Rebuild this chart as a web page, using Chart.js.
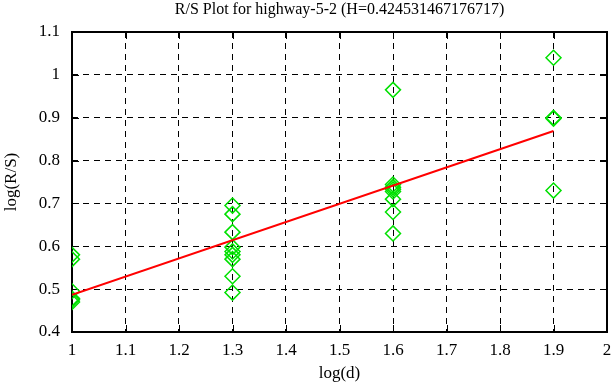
<!DOCTYPE html>
<html>
<head>
<meta charset="utf-8">
<script src="https://cdn.jsdelivr.net/npm/chart.js@4/dist/chart.umd.min.js"></script>
<style>
html, body { margin: 0; padding: 0; background: #fff; }
#wrap { width: 616px; height: 387px; }
</style>
</head>
<body>
<div id="wrap"><canvas id="rs"></canvas></div>
<script>
const titulo = 'R/S Plot for highway-5-2 (H=0.424531467176717)';

// log(d) and log(R/S) of every sample
const logD = [1, 1, 1, 1, 1, 1,
    1.3, 1.3, 1.3, 1.3, 1.3, 1.3, 1.3, 1.3, 1.3,
    1.6, 1.6, 1.6, 1.6, 1.6, 1.6, 1.6, 1.6,
    1.9, 1.9, 1.9, 1.9];
const logRS = [0.58, 0.57, 0.495, 0.478, 0.475, 0.47,
    0.695, 0.675, 0.633, 0.598, 0.588, 0.58, 0.57, 0.53, 0.492,
    0.965, 0.744, 0.738, 0.733, 0.728, 0.71, 0.68, 0.63,
    1.04, 0.9, 0.898, 0.73];

// fitted line end points
const fitX = [1, 1.9];
const fitY = [0.487, 0.869];

const xTicks = [1, 1.1, 1.2, 1.3, 1.4, 1.5, 1.6, 1.7, 1.8, 1.9, 2];
const yTicks = [0.4, 0.5, 0.6, 0.7, 0.8, 0.9, 1, 1.1];

const fonte = '"Liberation Serif", "Times New Roman", serif';

const moldura = {
    id: 'moldura',
    beforeDatasetsDraw(chart) {
        const ctx = chart.ctx;
        const a = chart.chartArea;
        const sx = chart.scales.x;
        const sy = chart.scales.y;
        ctx.save();
        ctx.strokeStyle = '#000';
        ctx.setLineDash([]);
        ctx.lineWidth = 1;
        ctx.beginPath();
        xTicks.forEach(v => {
            const px = Math.round(sx.getPixelForValue(v)) + 0.5;
            ctx.moveTo(px, a.bottom); ctx.lineTo(px, a.bottom - 7);
            ctx.moveTo(px, a.top); ctx.lineTo(px, a.top + 7);
        });
        yTicks.forEach(v => {
            const py = Math.round(sy.getPixelForValue(v)) + 0.5;
            ctx.moveTo(a.left, py); ctx.lineTo(a.left + 7, py);
            ctx.moveTo(a.right, py); ctx.lineTo(a.right - 7, py);
        });
        ctx.stroke();
        ctx.lineWidth = 2;
        ctx.strokeRect(a.left, a.top, a.right - a.left, a.bottom - a.top);
        ctx.restore();
    },
    afterDraw(chart) {
        const ctx = chart.ctx;
        const a = chart.chartArea;
        ctx.save();
        ctx.fillStyle = '#000';
        ctx.font = '16px ' + fonte;
        ctx.textAlign = 'center';
        ctx.textBaseline = 'middle';
        ctx.fillText(titulo, (a.left + a.right) / 2, 10);
        ctx.restore();
    }
};

new Chart(document.getElementById('rs'), {
    type: 'scatter',
    data: {
        datasets: [{
            data: logD.map((x, i) => ({ x: x, y: logRS[i] })),
            pointStyle: 'rectRot',
            pointRadius: 7.5,
            pointBorderWidth: 1.5,
            borderColor: '#00e000',
            backgroundColor: 'rgba(0,0,0,0)',
            showLine: false,
            order: 2
        }, {
            data: fitX.map((x, i) => ({ x: x, y: fitY[i] })),
            showLine: true,
            borderColor: '#ff0000',
            borderWidth: 2,
            pointRadius: 0,
            order: 1
        }]
    },
    options: {
        responsive: true,
        maintainAspectRatio: false,
        animation: false,
        layout: { padding: { top: 32, right: 7, left: 0, bottom: 0 } },
        plugins: {
            legend: { display: false },
            tooltip: { enabled: false },
            title: { display: false }
        },
        scales: {
            x: {
                type: 'linear',
                min: 1,
                max: 2,
                afterBuildTicks: s => { s.ticks = xTicks.map(v => ({ value: v })); },
                afterFit: s => { s.height = 55; s.paddingLeft = 0; s.paddingRight = 0; },
                grid: { color: '#000', lineWidth: 1, drawTicks: false },
                border: { display: false, dash: [6, 5] },
                ticks: {
                    color: '#000',
                    font: { family: fonte, size: 17 },
                    padding: 8,
                    maxRotation: 0,
                    callback: v => String(v)
                },
                title: {
                    display: true,
                    text: 'log(d)',
                    color: '#000',
                    font: { family: fonte, size: 17 },
                    padding: { top: 0, bottom: 3 }
                }
            },
            y: {
                type: 'linear',
                min: 0.4,
                max: 1.1,
                afterBuildTicks: s => { s.ticks = yTicks.map(v => ({ value: v })); },
                afterFit: s => { s.width = 72; s.paddingTop = 0; s.paddingBottom = 0; },
                grid: { color: '#000', lineWidth: 1, drawTicks: false },
                border: { display: false, dash: [6, 5] },
                ticks: {
                    color: '#000',
                    font: { family: fonte, size: 17 },
                    padding: 12,
                    callback: v => String(v)
                },
                title: {
                    display: true,
                    text: 'log(R/S)',
                    color: '#000',
                    font: { family: fonte, size: 17 },
                    padding: { top: 1.5, bottom: 0 }
                }
            }
        }
    },
    plugins: [moldura]
});
</script>
</body>
</html>
